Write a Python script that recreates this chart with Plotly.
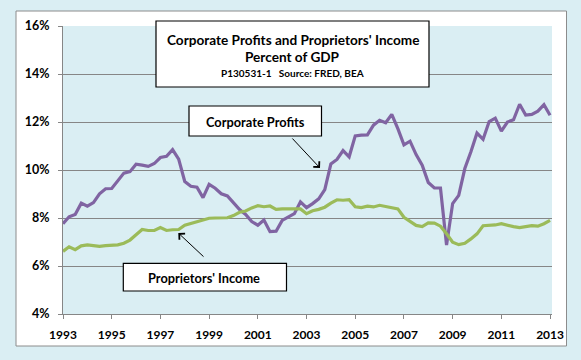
import plotly.graph_objects as go

# Quarterly data, 1993Q1 .. 2013Q1 (percent of GDP)
start_year = 1993
corporate_profits = [
    7.76, 8.05, 8.15, 8.62, 8.49, 8.64, 9.01, 9.22, 9.23, 9.57,
    9.87, 9.93, 10.24, 10.20, 10.15, 10.27, 10.52, 10.57, 10.85, 10.45,
    9.52, 9.32, 9.28, 8.85, 9.40, 9.24, 9.01, 8.92, 8.65, 8.35,
    8.15, 7.85, 7.70, 7.92, 7.43, 7.45, 7.90, 8.03, 8.18, 8.67,
    8.43, 8.60, 8.80, 9.18, 10.25, 10.44, 10.81, 10.55, 11.42, 11.45,
    11.46, 11.87, 12.07, 11.97, 12.32, 11.72, 11.05, 11.20, 10.64, 10.20,
    9.48, 9.25, 9.25, 6.87, 8.60, 8.94, 10.06, 10.76, 11.54, 11.28,
    12.02, 12.16, 11.62, 12.00, 12.09, 12.74, 12.29, 12.32, 12.45, 12.72,
    12.28,
]
proprietors_income = [
    6.61, 6.80, 6.68, 6.84, 6.88, 6.86, 6.82, 6.85, 6.86, 6.88,
    6.95, 7.08, 7.30, 7.52, 7.48, 7.48, 7.60, 7.48, 7.51, 7.52,
    7.70, 7.77, 7.83, 7.92, 7.99, 8.00, 8.00, 8.01, 8.10, 8.24,
    8.29, 8.42, 8.51, 8.47, 8.50, 8.36, 8.38, 8.37, 8.38, 8.38,
    8.18, 8.30, 8.36, 8.45, 8.62, 8.76, 8.74, 8.76, 8.47, 8.43,
    8.49, 8.46, 8.53, 8.49, 8.43, 8.38, 8.03, 7.85, 7.69, 7.64,
    7.80, 7.79, 7.66, 7.34, 6.99, 6.89, 6.95, 7.13, 7.34, 7.68,
    7.69, 7.71, 7.76, 7.69, 7.64, 7.60, 7.64, 7.68, 7.66, 7.76,
    7.90,
]
dates = [start_year + 0.25 * i for i in range(len(corporate_profits))]
year_ticks = list(range(1993, 2014, 2))
year_labels = [str(y) for y in year_ticks]
pct_ticks = [4, 6, 8, 10, 12, 14, 16]
pct_labels = [f"{v}%" for v in pct_ticks]

title_line1 = "Corporate Profits and Proprietors' Income"
title_line2 = "Percent of GDP"
title_line3 = "P130531-1   Source: FRED, BEA"
label_cp = "Corporate Profits"
label_pi = "Proprietors' Income"

W, H = 581, 360
ML, MR, MT, MB = 63, 29, 26, 46
PW, PH = W - ML - MR, H - MT - MB


def px(x):
    return (x - ML) / PW


def py(y):
    return (H - MB - y) / PH


FONT = "Lato, 'Open Sans', sans-serif"
BG = "#DAEEF3"
GRID = "#868686"

fig = go.Figure()
fig.add_trace(go.Scatter(x=dates, y=corporate_profits, mode="lines",
                         line=dict(color="#8064A2", width=3.2), name=label_cp,
                         hoverinfo="skip"))
fig.add_trace(go.Scatter(x=dates, y=proprietors_income, mode="lines",
                         line=dict(color="#9BBB59", width=3.2), name=label_pi,
                         hoverinfo="skip"))

shapes = [
    # white chart frame
    dict(type="rect", xref="paper", yref="paper", layer="below",
         x0=px(16), x1=px(566.5), y0=py(346), y1=py(11),
         fillcolor="white", line=dict(color="#8C8C8C", width=1)),
    # plot area
    dict(type="rect", xref="paper", yref="paper", layer="below",
         x0=0, x1=1, y0=0, y1=1, fillcolor=BG, line=dict(width=0)),
    # title box
    dict(type="rect", xref="paper", yref="paper", layer="above",
         x0=px(156), x1=px(429), y0=py(87), y1=py(21),
         fillcolor="white", line=dict(color="black", width=1.2)),
    # corporate profits label box
    dict(type="rect", xref="paper", yref="paper", layer="above",
         x0=px(189), x1=px(321.5), y0=py(136), y1=py(106),
         fillcolor="white", line=dict(color="black", width=1.2)),
    # proprietors label box
    dict(type="rect", xref="paper", yref="paper", layer="above",
         x0=px(123.3), x1=px(286.5), y0=py(291), y1=py(263.3),
         fillcolor="white", line=dict(color="black", width=1.2)),
]


def text_ann(text, x, y, size):
    return dict(text=text, xref="paper", yref="paper", x=px(x), y=py(y),
                xanchor="center", yanchor="middle", showarrow=False,
                font=dict(family=FONT, size=size, color="black"))


annotations = [
    text_ann(f"<b>{title_line1}</b>", 292.5, 39.5, 13.6),
    text_ann(f"<b>{title_line2}</b>", 292.5, 56.5, 13.6),
    text_ann(f"<b>{title_line3}</b>", 292.5, 72.5, 10),
    text_ann(f"<b>{label_cp}</b>", 255, 121.5, 12.8),
    text_ann(f"<b>{label_pi}</b>", 204, 277.5, 12.8),
    dict(text="", xref="paper", yref="paper", x=px(320), y=py(168),
         ax=-29, ay=-31, showarrow=True, arrowhead=4, arrowsize=1.6,
         arrowwidth=1, arrowcolor="black"),
    dict(text="", xref="paper", yref="paper", x=px(178.3), y=py(233),
         ax=26.7, ay=25, showarrow=True, arrowhead=4, arrowsize=1.6,
         arrowwidth=1, arrowcolor="black"),
]

fig.update_layout(
    width=W, height=H,
    margin=dict(l=ML, r=MR, t=MT, b=MB, pad=0),
    paper_bgcolor=BG, plot_bgcolor="rgba(0,0,0,0)",
    showlegend=False,
    shapes=shapes, annotations=annotations,
    font=dict(family=FONT, color="black"),
    xaxis=dict(range=[1993, 2013.08], tickvals=year_ticks, ticktext=year_labels,
               showgrid=False, zeroline=False, showline=True, linecolor=GRID,
               linewidth=1, ticks="outside", ticklen=4, tickcolor=GRID,
               ticklabelstandoff=6,
               tickfont=dict(family=FONT, size=12, color="black", weight="bold")),
    yaxis=dict(range=[4, 16], tickvals=pct_ticks, ticktext=pct_labels,
               showgrid=True, gridcolor=GRID, gridwidth=1, zeroline=False,
               showline=True, linecolor=GRID, linewidth=1, ticks="outside",
               ticklen=4, tickcolor=GRID, ticklabelstandoff=6,
               tickfont=dict(family=FONT, size=12.5, color="black", weight="bold")),
)

fig.write_html(
    "out.html",
    config={"displayModeBar": False},
    post_script="document.body.style.margin='0px';"
                "document.body.style.background='%s';" % BG,
)
